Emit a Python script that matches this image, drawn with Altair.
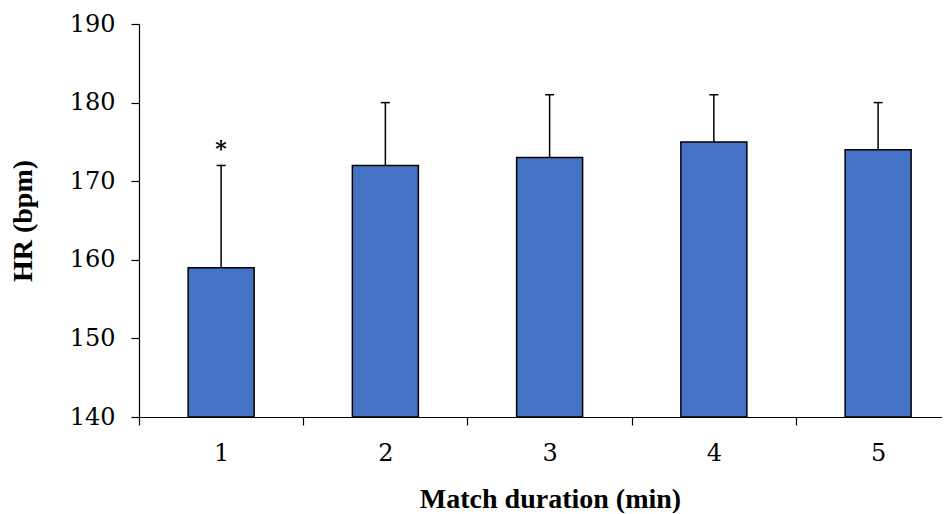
import altair as alt
import pandas as pd

minutes = [1, 2, 3, 4, 5]
hr_mean = [159, 172, 173, 175, 174]
hr_upper = [172, 180, 181, 181, 180]
marks = ["*", "", "", "", ""]

df = pd.DataFrame({"minute": minutes, "mean": hr_mean, "upper": hr_upper, "mark": marks})

x_scale = alt.Scale(domain=[0.5, 5.389], nice=False, zero=False, padding=0)
y_scale = alt.Scale(domain=[140, 190], nice=False, zero=False)

x_axis = alt.Axis(
    title="Match duration (min)",
    values=[0.5, 1, 1.5, 2, 2.5, 3, 3.5, 4, 4.5, 5],
    labelExpr="datum.value % 1 == 0 ? format(datum.value, 'd') : ''",
    tickOpacity={"condition": {"test": "datum.value % 1 == 0", "value": 0}, "value": 1},
    tickSize=8,
    labelPadding=16,
    labelOverlap=False,
    labelFlush=False,
    grid=False,
    labelFont="DejaVu Serif",
    labelFontSize=24,
    labelColor="#000000",
    titleFont="Liberation Serif",
    titleFontSize=28,
    titleFontWeight="bold",
    titleColor="#000000",
    titleX=411,
    titlePadding=20,
)

y_axis = alt.Axis(
    title="HR (bpm)",
    values=[140, 150, 160, 170, 180, 190],
    tickSize=8,
    labelPadding=16,
    grid=False,
    labelFont="DejaVu Serif",
    labelFontSize=24,
    labelColor="#000000",
    titleFont="Liberation Serif",
    titleFontSize=28,
    titleFontWeight="bold",
    titleColor="#000000",
    titlePadding=32,
)

base = alt.Chart(df)

bars = base.mark_bar(size=66, color="#4472C4", stroke="#000000", strokeWidth=1.5).encode(
    x=alt.X("minute:Q", scale=x_scale, axis=x_axis),
    y=alt.Y("mean:Q", scale=y_scale, axis=y_axis),
    y2=alt.datum(140),
)

err = base.mark_rule(color="#000000", strokeWidth=1.5).encode(
    x=alt.X("minute:Q", scale=x_scale),
    y=alt.Y("mean:Q", scale=y_scale),
    y2="upper:Q",
)

caps = base.mark_rule(color="#000000", strokeWidth=1.5, xOffset=-4.5, x2Offset=4.5).encode(
    x=alt.X("minute:Q", scale=x_scale),
    x2="minute:Q",
    y=alt.Y("upper:Q", scale=y_scale),
)

star = base.mark_text(font="DejaVu Serif", fontSize=22, fontWeight="bold", dy=-16, baseline="middle", color="#000000").encode(
    x=alt.X("minute:Q", scale=x_scale),
    y=alt.Y("upper:Q", scale=y_scale),
    text="mark:N",
)

chart = alt.layer(bars, err, caps, star).properties(
    width=803,
    height=393,
    autosize=alt.AutoSizeParams(type="none"),
    padding={"left": 131, "top": 16, "right": 0, "bottom": 96},
).configure_view(stroke=None).configure_axis(
    domainColor="#000000", tickColor="#000000", domainWidth=1.2, tickWidth=1.2
)

chart.save("out.html", embed_options={"renderer": "svg", "actions": False})
